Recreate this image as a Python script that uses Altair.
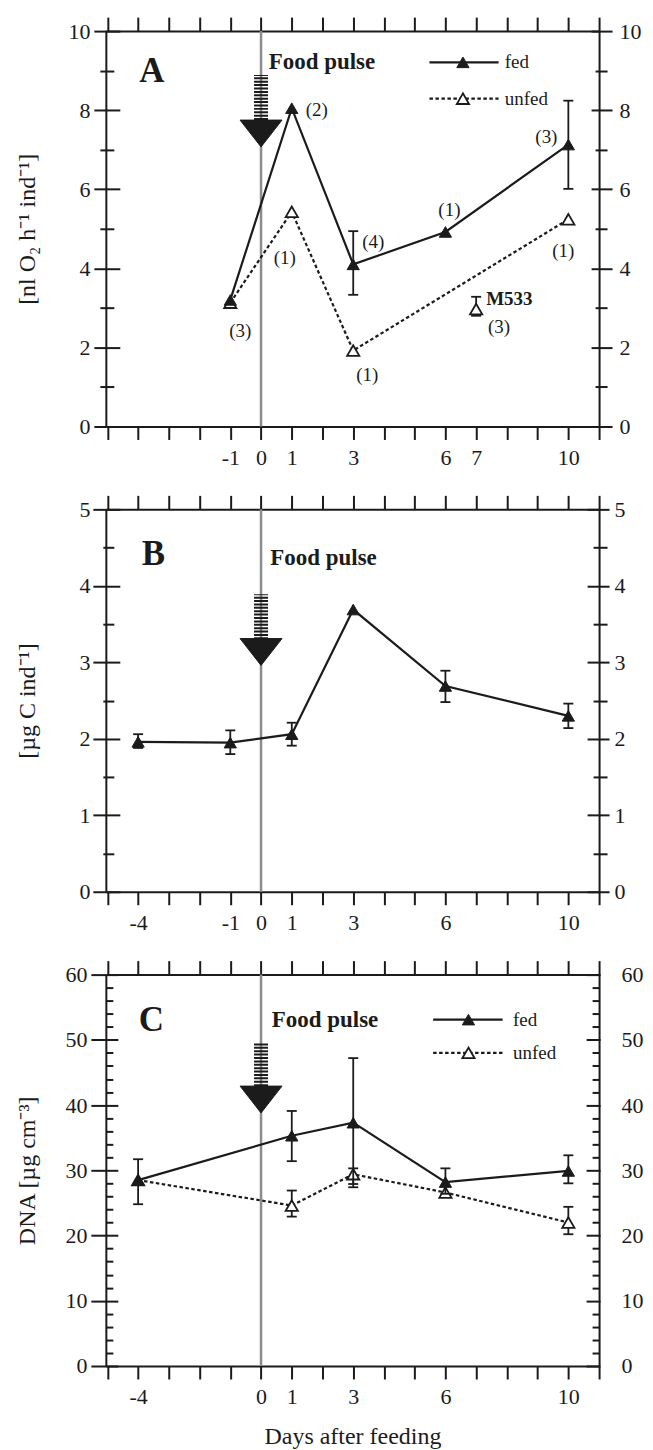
import altair as alt
import pandas as pd

# ------------------------------------------------------------------ data
# Panel A : respiration [nl O2 h-1 ind-1]
A_fed_day = [-1, 1, 3, 6, 10]
A_fed_val = [3.20, 8.05, 4.10, 4.92, 7.13]
A_fed_lo = [None, None, 3.33, None, 6.01]
A_fed_hi = [None, None, 4.94, None, 8.24]
A_fed_n = ["", "(2)", "(4)", "(1)", "(3)"]
A_unfed_day = [-1, 1, 3, 10]
A_unfed_val = [3.13, 5.43, 1.92, 5.24]
A_unfed_lo = [None, None, None, None]
A_unfed_hi = [None, None, None, None]
A_unfed_n = ["(3)", "(1)", "(1)", "(1)"]
A_m533_day = [7]
A_m533_val = [2.97]
A_m533_lo = [2.80]
A_m533_hi = [3.28]
A_xlabels = [-1, 0, 1, 3, 6, 7, 10]

# Panel B : carbon [ug C ind-1]
B_fed_day = [-4, -1, 1, 3, 6, 10]
B_fed_val = [1.96, 1.95, 2.06, 3.69, 2.69, 2.30]
B_fed_lo = [1.88, 1.80, 1.91, None, 2.48, 2.14]
B_fed_hi = [2.06, 2.11, 2.21, None, 2.89, 2.46]
B_xlabels = [-4, -1, 0, 1, 3, 6, 10]

# Panel C : DNA [ug cm-3]
C_fed_day = [-4, 1, 3, 6, 10]
C_fed_val = [28.5, 35.3, 37.3, 28.2, 29.9]
C_fed_lo = [24.8, 31.4, 27.4, 26.4, 28.0]
C_fed_hi = [31.7, 39.1, 47.2, 30.3, 32.3]
C_unfed_day = [-4, 1, 3, 6, 10]
C_unfed_val = [28.5, 24.6, 29.4, 26.6, 22.0]
C_unfed_lo = [None, 22.9, 27.9, None, 20.2]
C_unfed_hi = [None, 26.9, 30.3, None, 24.4]
C_xlabels = [-4, 0, 1, 3, 6, 10]

PULSE_DAY = [0]
DAY_TICKS = list(range(-5, 12))

# ------------------------------------------------------------------ style
FONT = "Liberation Serif"
INK = "#1b1b1b"
GRAY = "#8c8c8c"
W = 494
XDOM = [-5.05, 11]
TRI = "triangle-up"
CAP = "M-1,0L1,0"
HEAD = "M-1,-0.64L1,-0.64L0,0.64Z"


def xenc(field="day", axis=None):
    return alt.X(f"{field}:Q", scale=alt.Scale(domain=XDOM, nice=False, zero=False), axis=axis)


def yenc(field, ydom, axis=None):
    return alt.Y(f"{field}:Q", scale=alt.Scale(domain=ydom, nice=False, zero=False), axis=axis)


def one(day, val, **extra):
    d = {"day": [day], "val": [val]}
    for k, v in extra.items():
        d[k] = [v]
    return pd.DataFrame(d)


def series(day, val, lo, hi, ydom, filled, dashed, texts=None, offs=None, line=True):
    df = pd.DataFrame({"day": day, "val": val, "lo": lo, "hi": hi})
    out = []
    if line:
        kw = dict(color=INK, strokeWidth=2.2)
        if dashed:
            kw["strokeDash"] = [3.5, 2.5]
        out.append(alt.Chart(df).mark_line(**kw).encode(x=xenc(), y=yenc("val", ydom)))
    eb = df.dropna(subset=["lo"])
    if len(eb):
        out.append(alt.Chart(eb).mark_rule(color=INK, strokeWidth=1.8)
                   .encode(x=xenc(), y=yenc("lo", ydom), y2="hi:Q"))
        for f in ("lo", "hi"):
            out.append(alt.Chart(eb).mark_point(shape=CAP, size=100, filled=False, stroke=INK,
                                                strokeWidth=1.8, opacity=1)
                       .encode(x=xenc(), y=yenc(f, ydom)))
    if filled:
        m = dict(shape=TRI, size=150, filled=True, fill=INK, stroke=INK, strokeWidth=1, opacity=1)
    else:
        m = dict(shape=TRI, size=150, filled=True, fill="white", stroke=INK, strokeWidth=1.8, opacity=1)
    out.append(alt.Chart(df).mark_point(**m).encode(x=xenc(), y=yenc("val", ydom)))
    if texts:
        for d, v, t, (dx, dy) in zip(day, val, texts, offs):
            if not t:
                continue
            out.append(alt.Chart(one(d, v, t=t)).mark_text(
                dx=dx, dy=dy, font=FONT, fontSize=19, color=INK, align="center", baseline="middle")
                .encode(x=xenc(), y=yenc("val", ydom), text="t:N"))
    return out


def text_at(day, val, t, ydom, size, bold=True, align="left"):
    return alt.Chart(one(day, val, t=t)).mark_text(
        font=FONT, fontSize=size, fontWeight="bold" if bold else "normal", color=INK,
        align=align, baseline="middle").encode(x=xenc(), y=yenc("val", ydom), text="t:N")


def pulse(ydom, shaft_top, head_top, tip):
    vl = pd.DataFrame({"day": PULSE_DAY, "lo": [ydom[0]], "hi": [ydom[1]]})
    sh = pd.DataFrame({"day": PULSE_DAY, "lo": [head_top], "hi": [shaft_top]})
    hd = pd.DataFrame({"day": PULSE_DAY, "val": [(head_top + tip) / 2]})
    return [
        alt.Chart(vl).mark_rule(color=GRAY, strokeWidth=2.5).encode(x=xenc(), y=yenc("lo", ydom), y2="hi:Q"),
        alt.Chart(sh).mark_rule(color=INK, strokeWidth=14, strokeDash=[2, 1.4]).encode(
            x=xenc(), y=yenc("lo", ydom), y2="hi:Q"),
        alt.Chart(hd).mark_point(shape=HEAD, size=1764, filled=True, fill=INK, stroke=INK,
                                 strokeWidth=1, opacity=1).encode(x=xenc(), y=yenc("val", ydom)),
    ]


def legend(ydom, y_fed, y_unfed, x0, x1, xm, xt):
    out = []
    for yv, dashed, filled, lab in ((y_fed, False, True, "fed"), (y_unfed, True, False, "unfed")):
        seg = pd.DataFrame({"day": [x0, x1], "val": [yv, yv]})
        kw = dict(color=INK, strokeWidth=2.2)
        if dashed:
            kw["strokeDash"] = [3.5, 2.5]
        out.append(alt.Chart(seg).mark_line(**kw).encode(x=xenc(), y=yenc("val", ydom)))
        if filled:
            m = dict(shape=TRI, size=150, filled=True, fill=INK, stroke=INK, strokeWidth=1, opacity=1)
        else:
            m = dict(shape=TRI, size=150, filled=True, fill="white", stroke=INK, strokeWidth=1.8, opacity=1)
        out.append(alt.Chart(one(xm, yv)).mark_point(**m).encode(x=xenc(), y=yenc("val", ydom)))
        out.append(alt.Chart(one(xt, yv, t=lab)).mark_text(
            font=FONT, fontSize=19, color=INK, align="left", baseline="middle")
            .encode(x=xenc(), y=yenc("val", ydom), text="t:N"))
    return out


DUMMY = pd.DataFrame({"day": [0.0], "val": [0.0]})
TK = dict(tickColor=INK, tickWidth=2, grid=False)


def y_axes(ydom, h, major, minor, title, left, right):
    out = []

    def lay(ax):
        return alt.Chart(DUMMY).mark_point(opacity=0).encode(x=xenc(), y=yenc("val", ydom, axis=alt.Axis(**ax)))

    # left labelled axis
    out.append(lay(dict(orient="left", values=major, tickSize=left["mo"], labelPadding=left["pad"],
                        labelFont=FONT, labelFontSize=22, labelColor=INK, domain=True, domainColor=INK,
                        domainWidth=2, title=title, titleFont=FONT, titleFontSize=24,
                        titleFontWeight="normal", titleColor=INK, titleAngle=270, titleBaseline="bottom",
                        titleAlign="center", titleX=-66, titleY=h / 2, **TK)))
    # right labelled axis
    out.append(lay(dict(orient="right", values=major, tickSize=max(right["mo"], 0.5),
                        labelPadding=right["pad"], labelFont=FONT, labelFontSize=22, labelColor=INK,
                        domain=True, domainColor=INK, domainWidth=2, title=None, **TK)))
    for side, s in (("left", left), ("right", right)):
        if s["mi"] > 0:
            out.append(lay(dict(orient=side, offset=-s["mi"], tickSize=s["mi"], values=major, labels=False,
                                domain=False, title=None, **TK)))
        if s["no"] > 0:
            out.append(lay(dict(orient=side, tickSize=s["no"], values=minor, labels=False,
                                domain=False, title=None, **TK)))
        if s["ni"] > 0:
            out.append(lay(dict(orient=side, offset=-s["ni"], tickSize=s["ni"], values=minor, labels=False,
                                domain=False, title=None, **TK)))
    return out


def x_axes(ydom, xlabels, xtitle=None):
    lab_list = ",".join(str(v) for v in xlabels)
    expr = f"indexof([{lab_list}], datum.value) >= 0 ? '' + datum.value : ''"

    def lay(ax):
        return alt.Chart(DUMMY).mark_point(opacity=0).encode(x=xenc(axis=alt.Axis(**ax)), y=yenc("val", ydom))

    bottom = dict(orient="bottom", values=DAY_TICKS, tickSize=13, labelExpr=expr, labelPadding=8,
                  labelFont=FONT, labelFontSize=22, labelColor=INK, domain=True, domainColor=INK,
                  domainWidth=2, **TK)
    if xtitle:
        bottom.update(title=xtitle, titleFont=FONT, titleFontSize=24, titleFontWeight="normal",
                      titleColor=INK, titlePadding=17)
    else:
        bottom.update(title=None)
    top = dict(orient="top", values=DAY_TICKS, tickSize=14, labels=False, domain=True, domainColor=INK,
               domainWidth=2, title=None, **TK)
    return [lay(bottom), lay(top)]


def finish(layers, h):
    return alt.layer(*layers).resolve_axis(x="independent", y="independent").properties(width=W, height=h)


# ------------------------------------------------------------------ panel A
yA = [0, 10]
hA = 396
A_layers = []
A_layers += y_axes(yA, hA, [0, 2, 4, 6, 8, 10], [1, 3, 5, 7, 9], "[nl O\u2082 h\u207b\u00b9 ind\u207b\u00b9]",
                   left=dict(mo=12, mi=14, no=6, ni=8, pad=4),
                   right=dict(mo=13, mi=8, no=8, ni=4, pad=7))
A_layers += x_axes(yA, A_xlabels)
A_layers += pulse(yA, 8.89, 7.75, 7.07)
A_layers += series(A_unfed_day, A_unfed_val, A_unfed_lo, A_unfed_hi, yA, filled=False, dashed=True,
                   texts=A_unfed_n, offs=[(10, 28), (-7, 46), (14, 24), (-5, 32)])
A_layers += series(A_fed_day, A_fed_val, A_fed_lo, A_fed_hi, yA, filled=True, dashed=False,
                   texts=A_fed_n, offs=[(0, 0), (25, 2), (20, -22), (4, -22), (-22, -8)])
A_layers += series(A_m533_day, A_m533_val, A_m533_lo, A_m533_hi, yA, filled=False, dashed=False, line=False)
A_layers.append(alt.Chart(one(A_m533_day[0], A_m533_val[0], t="M533")).mark_text(
    dx=10, dy=-10, font=FONT, fontSize=19, fontWeight="bold", color=INK, align="left", baseline="middle")
    .encode(x=xenc(), y=yenc("val", yA), text="t:N"))
A_layers.append(alt.Chart(one(A_m533_day[0], A_m533_val[0], t="(3)")).mark_text(
    dx=23, dy=18, font=FONT, fontSize=19, color=INK, align="center", baseline="middle")
    .encode(x=xenc(), y=yenc("val", yA), text="t:N"))
A_layers.append(text_at(-3.55, 9.0, "A", yA, 35, align="center"))
A_layers.append(text_at(0.25, 9.22, "Food pulse", yA, 23))
A_layers += legend(yA, 9.21, 8.29, 5.48, 7.73, 6.57, 7.93)
panelA = finish(A_layers, hA)

# ------------------------------------------------------------------ panel B
yB = [0, 5]
hB = 383
B_layers = []
B_layers += y_axes(yB, hB, [0, 1, 2, 3, 4, 5], [0.5, 1.5, 2.5, 3.5, 4.5], "[\u00b5g C ind\u207b\u00b9]",
                   left=dict(mo=13, mi=14, no=3, ni=8, pad=3),
                   right=dict(mo=10, mi=12, no=8, ni=6, pad=5))
B_layers += x_axes(yB, B_xlabels)
B_layers += pulse(yB, 3.89, 3.30, 2.97)
B_layers += series(B_fed_day, B_fed_val, B_fed_lo, B_fed_hi, yB, filled=True, dashed=False)
B_layers.append(text_at(-3.5, 4.41, "B", yB, 35, align="center"))
B_layers.append(text_at(0.3, 4.37, "Food pulse", yB, 23))
panelB = finish(B_layers, hB)

# ------------------------------------------------------------------ panel C
yC = [0, 60]
hC = 392
C_layers = []
C_layers += y_axes(yC, hC, [0, 10, 20, 30, 40, 50, 60],
                   [2, 4, 6, 8, 12, 14, 16, 18, 22, 24, 26, 28, 32, 34, 36, 38, 42, 44, 46, 48, 52, 54, 56, 58],
                   "DNA [\u00b5g cm\u207b\u00b3]",
                   left=dict(mo=15, mi=12, no=0, ni=7, pad=4),
                   right=dict(mo=1, mi=13, no=0, ni=7, pad=21))
C_layers += x_axes(yC, C_xlabels, xtitle="Days after feeding")
C_layers += pulse(yC, 49.5, 42.9, 38.8)
C_layers += series(C_unfed_day, C_unfed_val, C_unfed_lo, C_unfed_hi, yC, filled=False, dashed=True)
C_layers += series(C_fed_day, C_fed_val, C_fed_lo, C_fed_hi, yC, filled=True, dashed=False)
C_layers.append(text_at(-3.57, 53.1, "C", yC, 35, align="center"))
C_layers.append(text_at(0.35, 53.1, "Food pulse", yC, 23))
C_layers += legend(yC, 53.1, 48.0, 5.6, 7.86, 6.75, 8.2)
panelC = finish(C_layers, hC)

chart = alt.vconcat(panelA, panelB, panelC, spacing=83, bounds="flush").properties(
    padding={"left": 8, "top": 7, "right": 2, "bottom": 2}
).configure_view(stroke=None).configure_axis(grid=False, labelFlush=False, labelOverlap=False)

chart.save("out.html", embed_options={"renderer": "svg", "actions": False})
